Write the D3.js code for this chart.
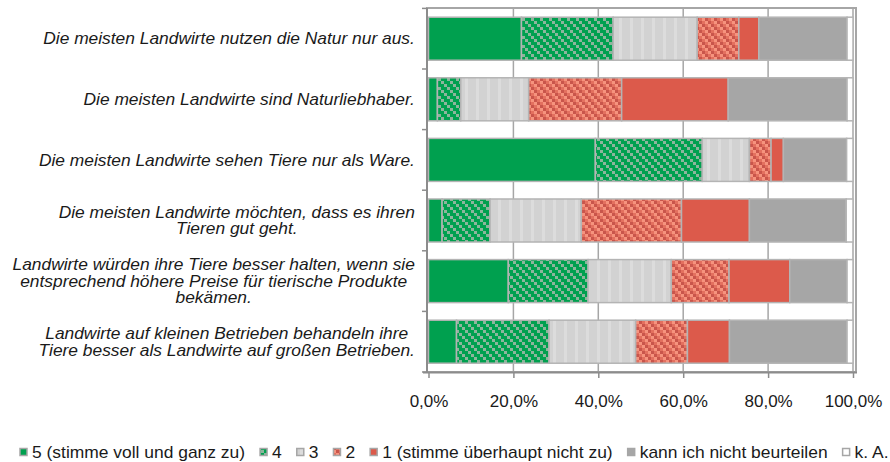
<!DOCTYPE html>
<html>
<head>
<meta charset="utf-8">
<script src="https://cdn.jsdelivr.net/npm/d3@7"></script>
<style>
  body { margin: 0; background: white; }
  text { font-family: "Liberation Sans", Arial, sans-serif; fill: #1a1a1a; }
</style>
</head>
<body>
<div class="canvas"></div>
<script>
var width = 890;
var height = 462;

// Aussagen (von oben nach unten), Zeilenumbruch mit "|"
var statements = [
    "Die meisten Landwirte nutzen die Natur nur aus.",
    "Die meisten Landwirte sind Naturliebhaber.",
    "Die meisten Landwirte sehen Tiere nur als Ware.",
    "Die meisten Landwirte möchten, dass es ihren|Tieren gut geht.",
    "Landwirte würden ihre Tiere besser halten, wenn sie|entsprechend höhere Preise für tierische Produkte|bekämen.",
    "Landwirte auf kleinen Betrieben behandeln ihre|Tiere besser als Landwirte auf großen Betrieben."
];

var answers = ["5 (stimme voll und ganz zu)", "4", "3", "2", "1 (stimme überhaupt nicht zu)", "kann ich nicht beurteilen", "k. A."];

// Anteile in % je Aussage, Reihenfolge wie answers
var s5   = [21.9,  2.1, 39.3,  3.2, 18.8,  6.6];
var s4   = [21.6,  5.5, 25.2, 11.3, 18.8, 21.8];
var s3   = [19.8, 16.0, 11.1, 21.5, 19.6, 20.4];
var s2   = [ 9.8, 21.9,  5.1, 23.6, 13.6, 12.2];
var s1   = [ 4.7, 25.1,  2.9, 16.0, 14.3,  9.9];
var kann = [20.8, 28.0, 14.9, 22.8, 13.5, 27.7];
var ka   = [ 1.4,  1.4,  1.5,  1.6,  1.4,  1.4];

var xTicks = [0, 0.2, 0.4, 0.6, 0.8, 1.0];

var series = [s5, s4, s3, s2, s1, kann, ka];
var fills = ["#00a04f", "url(#p4)", "url(#p3)", "url(#p2)", "#dc5a4b", "#a6a6a6", "#ffffff"];

var svg = d3.select(".canvas").append("svg")
    .attr("width", width)
    .attr("height", height)
    .style("background", "white");

// Muster (diagonal versetzte Karos)
var defs = svg.append("defs");
function diagPattern(id, base, c1, c2) {
    var p = defs.append("pattern").attr("id", id).attr("patternUnits", "userSpaceOnUse")
        .attr("width", 9).attr("height", 9);
    p.append("rect").attr("width", 9).attr("height", 9).attr("fill", base);
    for (var i = 0; i < 3; i++) {
        p.append("rect").attr("x", i * 3).attr("y", i * 3).attr("width", 3).attr("height", 3).attr("fill", c1);
        if (c2) p.append("rect").attr("x", ((i + 1) % 3) * 3).attr("y", i * 3).attr("width", 3).attr("height", 3).attr("fill", c2);
    }
}
diagPattern("p4", "#00a04f", "#8db59c", null);
diagPattern("p2", "#e3705f", "#f6937e", "#c9554b");

var p3 = defs.append("pattern").attr("id", "p3").attr("patternUnits", "userSpaceOnUse")
    .attr("width", 11).attr("height", 4);
p3.append("rect").attr("width", 11).attr("height", 4).attr("fill", "#d2d2d2");
p3.append("rect").attr("x", 3).attr("width", 3).attr("height", 4).attr("fill", "#dcdcdc");

var x = d3.scaleLinear().domain([0, 1]).range([428.5, 853]);
var y = d3.scaleBand().domain(d3.range(statements.length)).range([8.4, 372])
    .paddingInner(0.29).paddingOuter(0.145);

// Rahmen und Gitter
svg.append("rect")
    .attr("x", 427).attr("y", 8)
    .attr("width", 429).attr("height", 364)
    .attr("fill", "none").attr("stroke", "#a6a6a6").attr("stroke-width", 2);

svg.selectAll("line.grid")
    .data(xTicks.slice(1))
    .enter()
    .append("line")
    .attr("class", "grid")
    .attr("x1", d => x(d)).attr("x2", d => x(d))
    .attr("y1", 8).attr("y2", 372)
    .attr("stroke", "#a6a6a6").attr("stroke-width", 1.5);

// Balken
var stacked = statements.map((s, i) => {
    var acc = 0;
    return series.map((ser, k) => {
        var v = ser[i] / 100;
        var seg = { row: i, k: k, x0: acc, x1: acc + v };
        acc += v;
        return seg;
    });
});

var rows = svg.selectAll("g.row")
    .data(stacked)
    .enter()
    .append("g")
    .attr("class", "row");

rows.selectAll("rect")
    .data(d => d)
    .enter()
    .append("rect")
    .attr("x", d => x(d.x0))
    .attr("y", d => y(d.row))
    .attr("width", d => x(d.x1) - x(d.x0))
    .attr("height", y.bandwidth())
    .attr("fill", d => fills[d.k])
    .attr("stroke", "#b4b4b4")
    .attr("stroke-width", 1.5);

// Achsen
var pct = d3.formatLocale({ decimal: ",", thousands: ".", grouping: [3], currency: ["", "€"] }).format(".1%");

var xAxis = svg.append("g")
    .attr("transform", "translate(0,372)")
    .call(d3.axisBottom(x).tickValues(xTicks).tickFormat(pct).tickSize(6).tickSizeOuter(0));
xAxis.select(".domain").attr("stroke", "#8c8c8c").attr("stroke-width", 2)
    .attr("d", "M423,0.5H857");
xAxis.selectAll(".tick line").attr("stroke", "#8c8c8c").attr("stroke-width", 1.5);
xAxis.selectAll(".tick text")
    .attr("dy", "1.55em")
    .style("font-size", "17px")
    .style("font-family", "'Liberation Sans', Arial, sans-serif")
    .attr("fill", "#1a1a1a");

svg.append("line")
    .attr("x1", 427).attr("x2", 427).attr("y1", 8).attr("y2", 372)
    .attr("stroke", "#8c8c8c").attr("stroke-width", 2);

var bounds = d3.range(statements.length + 1).map(i => 8.4 + i * y.step());
svg.selectAll("line.ytick")
    .data(bounds)
    .enter()
    .append("line")
    .attr("class", "ytick")
    .attr("x1", 422).attr("x2", 427)
    .attr("y1", d => d).attr("y2", d => d)
    .attr("stroke", "#8c8c8c").attr("stroke-width", 1.5);

// Beschriftungen der Aussagen
var labelSize = 15.8, labelScale = 1.1, lineH = 16.3, labelRight = 415;
statements.forEach((s, i) => {
    var lines = s.split("|");
    var cy = y(i) + y.bandwidth() / 2;
    var g = svg.append("g");
    var texts = lines.map((l, j) => g.append("text")
        .text(l)
        .style("font-size", labelSize + "px")
        .style("font-style", "italic"));
    var maxW = d3.max(texts, t => t.node().getComputedTextLength()) * labelScale;
    var cx = labelRight - maxW / 2;
    texts.forEach((t, j) => {
        var by = cy + (j - (lines.length - 1) / 2) * lineH + 0.36 * labelSize;
        t.attr("text-anchor", "middle")
            .attr("transform", `translate(${cx},${by}) scale(${labelScale},1)`);
    });
});

// Legende
var legend = svg.append("g");
var lx = 20, legendSize = 16.6, legendScale = 1.05;
answers.forEach((a, k) => {
    legend.append("rect")
        .attr("x", lx).attr("y", 448.5)
        .attr("width", 7).attr("height", 7)
        .attr("fill", fills[k])
        .attr("stroke", "#a6a6a6").attr("stroke-width", 1.5);
    var t = legend.append("text")
        .text(a)
        .style("font-size", legendSize + "px")
        .attr("transform", `translate(${lx + 12},457.5) scale(${legendScale},1)`);
    lx += 12 + t.node().getComputedTextLength() * legendScale + 15;
});
</script>
</body>
</html>
